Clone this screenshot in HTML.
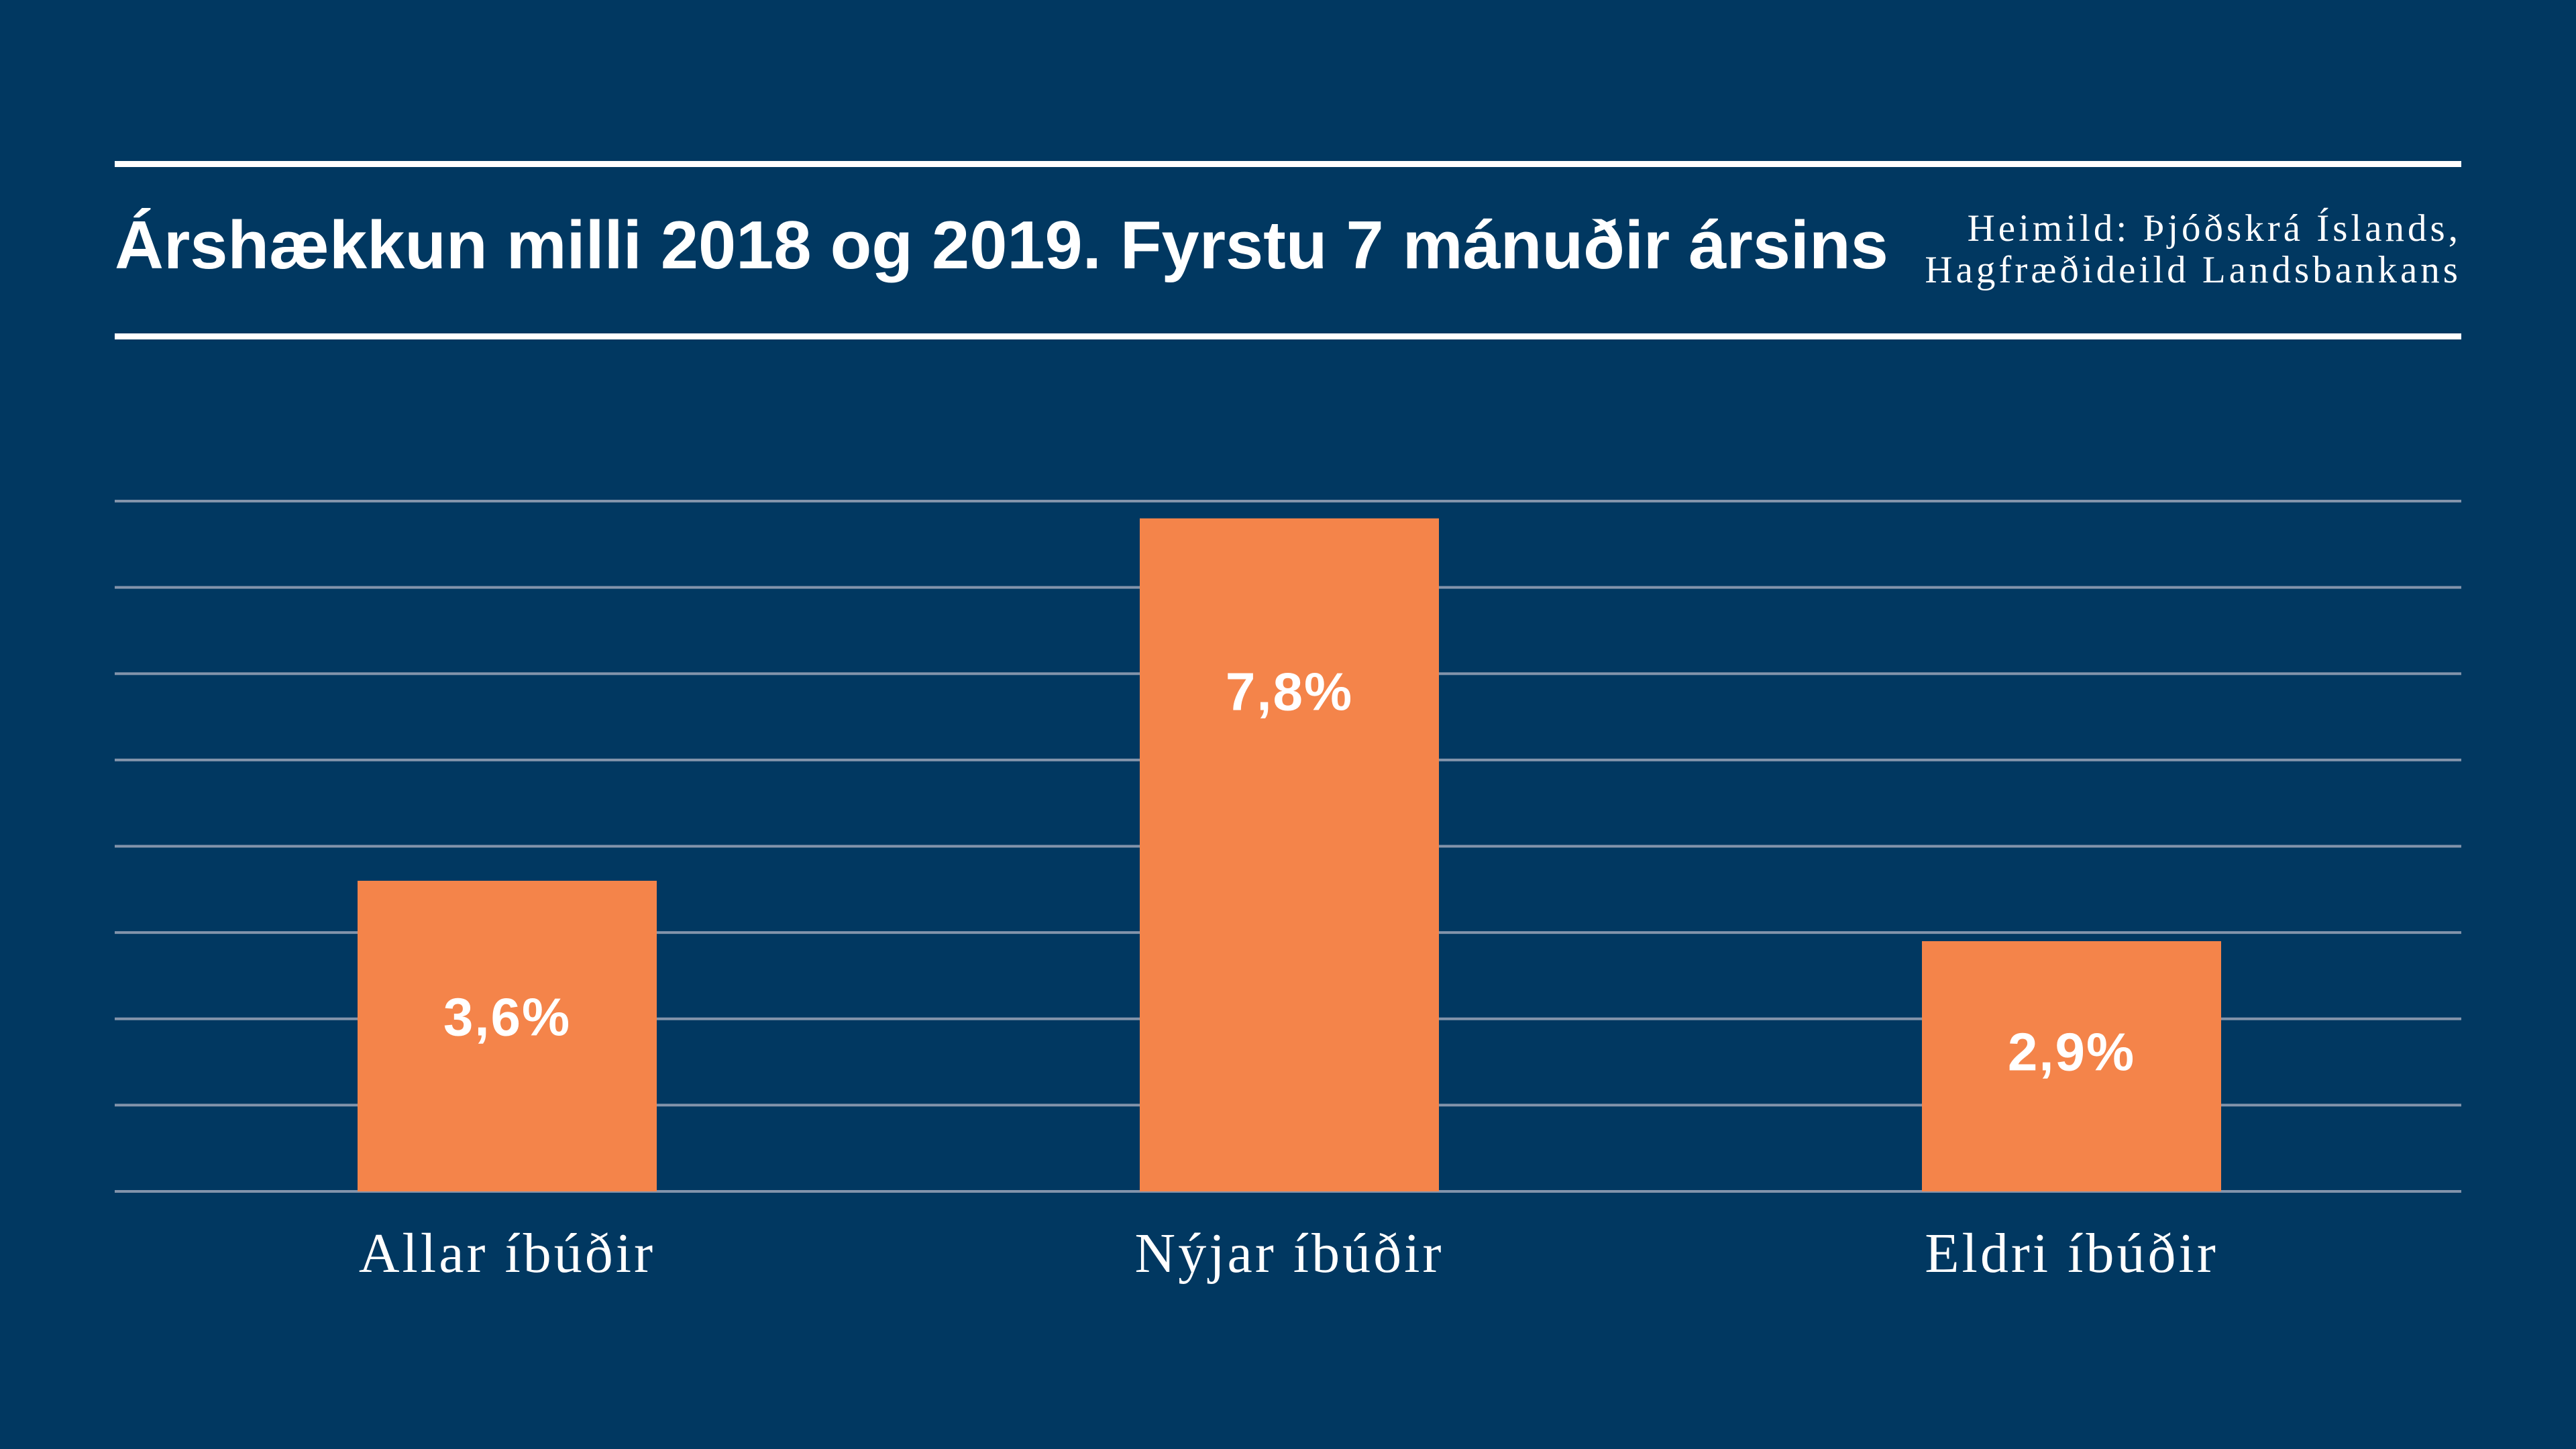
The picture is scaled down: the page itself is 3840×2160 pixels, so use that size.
<!DOCTYPE html>
<html><head><meta charset="utf-8"><style>
html,body{margin:0;padding:0;background:#013861;}
#wrap{position:relative;width:3840px;height:2160px;background:#013861;overflow:hidden;font-family:"Liberation Sans",sans-serif;color:#fff;}
.rule{position:absolute;left:171px;width:3498px;height:9px;background:#fff;}
#title{position:absolute;left:171px;top:316px;font-size:101px;font-weight:bold;white-space:nowrap;line-height:1;}
#source{position:absolute;right:171px;top:310px;font-family:"Liberation Serif",serif;font-size:57px;letter-spacing:5px;text-align:right;line-height:62px;}
</style></head><body>
<div id="wrap">
<div class="rule" style="top:240px"></div>
<div id="title">Árshækkun milli 2018 og 2019. Fyrstu 7 mánuðir ársins</div>
<div id="source">Heimild: Þjóðskrá Íslands,<br>Hagfræðideild Landsbankans</div>
<div class="rule" style="top:497px"></div>
<svg id="chart" width="3840" height="2160" style="position:absolute;left:0;top:0"></svg>
</div>
<script>
const categories = ["Allar íbúðir","Nýjar íbúðir","Eldri íbúðir"];
const values = [3.6, 7.8, 2.9];
const valueLabels = ["3,6%","7,8%","2,9%"];
const gridTicks = [0,1,2,3,4,5,6,7,8];

const NS="http://www.w3.org/2000/svg";
const svg=document.getElementById('chart');
const x0=171,x1=3669,yBase=1776,yTop=747,yMax=8;
const bandW=(x1-x0)/categories.length, barW=446;
const y=v=>yBase-(v/yMax)*(yBase-yTop);
const xc=i=>x0+bandW*(i+0.5);
function mk(t,a){const e=document.createElementNS(NS,t);for(const k in a)e.setAttribute(k,a[k]);svg.appendChild(e);return e;}
gridTicks.forEach(t=>{
  const l=mk('line',{x1:x0,x2:x1,y1:y(t),y2:y(t),stroke:'#8394ab','stroke-width':4});
  
  
});
values.forEach((v,i)=>{
  const r=mk('rect',{x:xc(i)-barW/2+2,y:y(v),width:barW,height:yBase-y(v),fill:'#F4844A'});
  
  
  const h=yBase-y(v);
  const ly=y(v)+Math.min(h*0.42,250);
  const t=mk('text',{x:xc(i)+2,y:ly+36,'text-anchor':'middle',fill:'#fff','font-size':80,'font-weight':'bold','letter-spacing':2,'font-family':'Liberation Sans, sans-serif'});
  t.textContent=valueLabels[i];
  
  
  const c=mk('text',{x:xc(i)+2,y:1896,'text-anchor':'middle',fill:'#fff','font-size':84,'letter-spacing':4,'font-family':'Liberation Serif, serif'});
  c.textContent=categories[i];
  
  
});
</script>
</body></html>
